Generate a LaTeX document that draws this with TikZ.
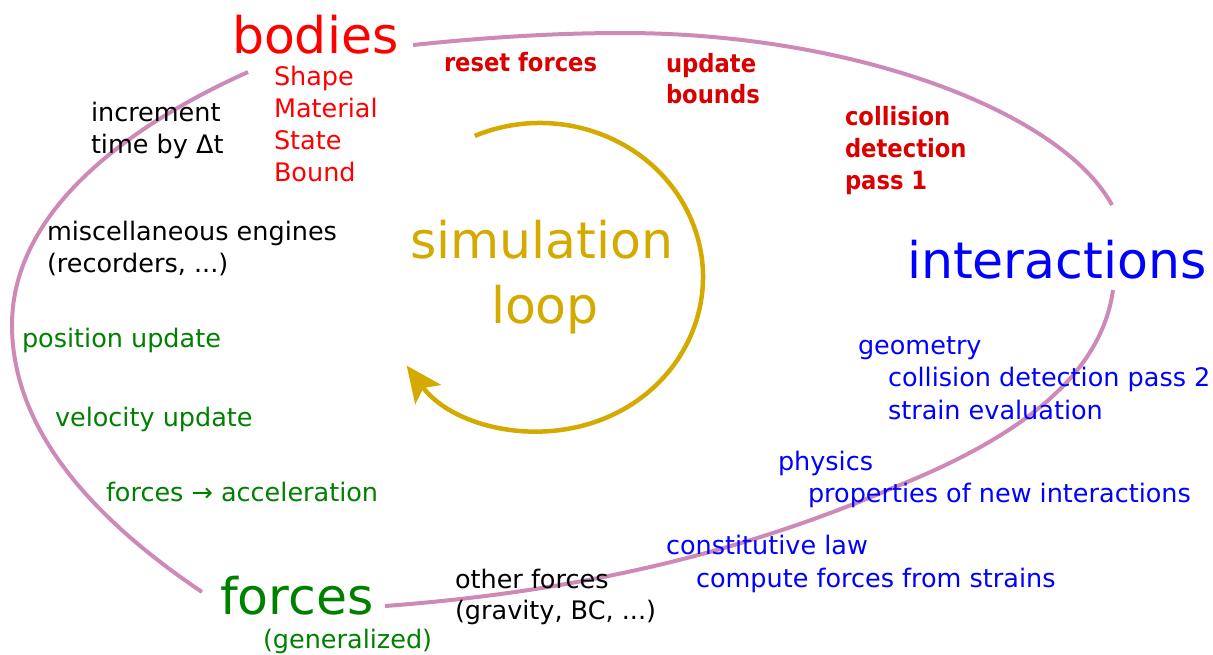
\documentclass[tikz,border=0pt]{standalone}
\usepackage{fontspec}
\setmainfont{DejaVu Sans}
\newfontfamily\condfont{DejaVu Sans Condensed}
\usetikzlibrary{arrows.meta,calc}
\definecolor{pinkline}{RGB}{205,138,182}
\definecolor{goldc}{RGB}{212,170,0}
\definecolor{darkred}{RGB}{218,0,0}
\definecolor{redc}{RGB}{255,0,0}
\definecolor{greenc}{RGB}{0,128,0}
\definecolor{bluec}{RGB}{0,0,255}
\tikzset{
  txt/.style={anchor=base west, inner sep=0pt, outer sep=0pt, font=\fontsize{25.5}{30}\selectfont},
  big/.style={anchor=base west, inner sep=0pt, outer sep=0pt, font=\fontsize{50.5}{60}\selectfont},
  boldlbl/.style={anchor=base west, inner sep=0pt, outer sep=0pt, text=darkred, font=\fontsize{25.2}{30}\selectfont\condfont\bfseries},
  ring/.style={draw=pinkline, line width=4pt, line cap=butt},
}
\begin{document}
\begin{tikzpicture}[x=1pt,y=-1pt]
\useasboundingbox (0,0) rectangle (1213,654);

% main nodes
\node[big, text=redc] (bodies) at (232,53) {bodies};
\node[big, text=bluec] (inter) at (907,278) {interactions};
\node[big, text=greenc] (forces) at (220,614) {forces};
\node[txt, text=greenc] (gen) at (263,648) {(generalized)};

% ring segments
\coordinate (bE) at (413,45);
\coordinate (ringtop) at (623,33);
\coordinate (iN) at (1112,205);
\coordinate (iS) at (1113,290);
\coordinate (bW) at (248,72);
\coordinate (ringleft) at (12,325);
\coordinate (fW) at (202,592);
\coordinate (fE) at (385,606);
\coordinate (ringlow) at (895,487);
\draw[ring] (bE) .. controls (480,38) and (550,33) .. (ringtop)
                 .. controls (850,33) and (1060,110) .. (iN);
\draw[ring] (bW) .. controls (130,125) and (12,210) .. (ringleft)
                 .. controls (12,440) and (110,530) .. (fW);
\draw[ring] (fE) .. controls (600,590) and (760,545) .. (ringlow)
                 .. controls (1000,445) and (1100,385) .. (iS);

% simulation loop
\coordinate (lc) at (540,277);
\draw[draw=goldc, line width=4.5pt, -{Stealth[length=36pt,width=32pt,inset=8pt]}]
  ($(lc)+(-113.6:163 and 154)$) arc[start angle=-113.6, end angle=144.9, x radius=163, y radius=154];
\node[big, text=goldc] (sim) at (410,258) {simulation};
\node[big, text=goldc] (loop) at (491,323) {loop};

% bodies attributes
\node[txt, text=redc] (shape) at (274,85) {Shape};
\node[txt, text=redc] (material) at (274,117) {Material};
\node[txt, text=redc] (state) at (274,149) {State};
\node[txt, text=redc] (bound) at (274,181) {Bound};

% bold steps
\node[boldlbl] (reset) at (444,71) {reset forces};
\node[boldlbl] (upd1) at (666,72) {update};
\node[boldlbl] (upd2) at (666,103) {bounds};
\node[boldlbl] (col1) at (845,125) {collision};
\node[boldlbl] (col2) at (845,157) {detection};
\node[boldlbl] (col3) at (845,189) {pass 1};

% black steps
\node[txt] (inc1) at (91,121) {increment};
\node[txt] (inc2) at (91,153) {time by Δt};
\node[txt] (misc1) at (47,240) {miscellaneous engines};
\node[txt] (misc2) at (47,272) {(recorders, ...)};
\node[txt] (oth1) at (455,588) {other forces};
\node[txt] (oth2) at (455,619) {(gravity, BC, ...)};

% green steps
\node[txt, text=greenc] (pos) at (22,347) {position update};
\node[txt, text=greenc] (vel) at (55,426) {velocity update};
\node[txt, text=greenc] (acc) at (106,501) {forces → acceleration};

% blue steps
\node[txt, text=bluec] (geo) at (858,354) {geometry};
\node[txt, text=bluec] (cd2) at (888,386) {collision detection pass 2};
\node[txt, text=bluec] (strain) at (888,419) {strain evaluation};
\node[txt, text=bluec] (phys) at (778,470) {physics};
\node[txt, text=bluec] (prop) at (808,502) {properties of new interactions};
\node[txt, text=bluec] (const) at (666,554) {constitutive law};
\node[txt, text=bluec] (comp) at (696,587) {compute forces from strains};
\end{tikzpicture}
\end{document}
